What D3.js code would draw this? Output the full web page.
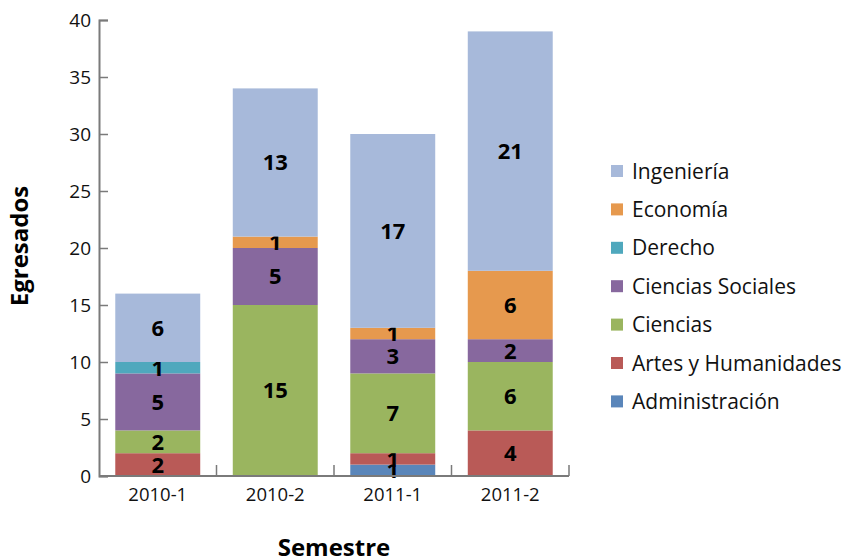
<!DOCTYPE html>
<html>
<head>
<meta charset="utf-8">
<script src="https://cdn.jsdelivr.net/npm/d3@7"></script>
<style>
  body { margin: 0; background: #fff; }
  svg text { font-family: "Open Sans", "DejaVu Sans", sans-serif; }
</style>
</head>
<body>
<div id="chart"></div>
<script>
// Egresados por semestre y área
const semesters = ['2010-1', '2010-2', '2011-1', '2011-2'];
const areas = ['Administración', 'Artes y Humanidades', 'Ciencias', 'Ciencias Sociales', 'Derecho', 'Economía', 'Ingeniería'];
const administracion = [0, 0, 1, 0];
const artes = [2, 0, 1, 4];
const ciencias = [2, 15, 7, 6];
const cienciasSociales = [5, 5, 3, 2];
const derecho = [1, 0, 0, 0];
const economia = [0, 1, 1, 6];
const ingenieria = [6, 13, 17, 21];
const yTicks = [0, 5, 10, 15, 20, 25, 30, 35, 40];
const colors = ['#5A86BA', '#B95A57', '#9AB55F', '#87689E', '#4FA8BD', '#E6994E', '#A7B9DA'];

const seriesValues = [administracion, artes, ciencias, cienciasSociales, derecho, economia, ingenieria];
const rows = semesters.map((s, i) => {
    const row = { semestre: s };
    areas.forEach((a, k) => { row[a] = seriesValues[k][i]; });
    return row;
});

const W = 859, H = 558;
const margin = { left: 99, right: 290, top: 20, bottom: 82 };

const svg = d3.select('#chart').append('svg')
    .attr('width', W)
    .attr('height', H);

const x = d3.scaleBand()
    .domain(semesters)
    .range([margin.left, 569])
    .paddingInner(0.277)
    .paddingOuter(0.1385);

const y = d3.scaleLinear()
    .domain([0, 40])
    .range([H - margin.bottom, margin.top]);

const color = d3.scaleOrdinal().domain(areas).range(colors);

const stacked = d3.stack().keys(areas)(rows);

// bars
const layer = svg.append('g').selectAll('g')
    .data(stacked)
    .join('g')
    .attr('fill', d => color(d.key));

layer.selectAll('rect')
    .data(d => d)
    .join('rect')
    .attr('x', d => x(d.data.semestre))
    .attr('y', d => y(d[1]))
    .attr('width', x.bandwidth())
    .attr('height', d => y(d[0]) - y(d[1]));

// value labels
layer.selectAll('text')
    .data(d => d.filter(v => v[1] - v[0] > 0))
    .join('text')
    .attr('x', d => x(d.data.semestre) + x.bandwidth() / 2)
    .attr('y', d => (y(d[0]) + y(d[1])) / 2)
    .attr('dy', '0.36em')
    .attr('text-anchor', 'middle')
    .attr('font-size', 22)
    .attr('font-weight', 'bold')
    .attr('fill', '#000')
    .text(d => d[1] - d[0]);

// y axis
const yAxis = svg.append('g')
    .attr('transform', `translate(${margin.left},0)`)
    .call(d3.axisRight(y).tickValues(yTicks).tickSize(9).tickFormat(d3.format('d')));
yAxis.select('.domain').attr('stroke', '#7a7a7a').attr('stroke-width', 2);
yAxis.selectAll('.tick line').attr('stroke', '#7a7a7a').attr('stroke-width', 1.5);
yAxis.selectAll('.tick text')
    .attr('x', -8)
    .attr('text-anchor', 'end')
    .attr('font-size', 19)
    .attr('fill', '#111');

// x axis, ticks at category boundaries pointing up
const xAxisG = svg.append('g')
    .attr('transform', `translate(0,${y(0)})`);
xAxisG.append('line')
    .attr('x1', margin.left).attr('x2', 569)
    .attr('stroke', '#7a7a7a').attr('stroke-width', 2);
const step = x.step();
const bounds = semesters.map(s => x(s) + x.bandwidth() + (step - x.bandwidth()) / 2);
xAxisG.selectAll('line.bound')
    .data(bounds)
    .join('line')
    .attr('class', 'bound')
    .attr('x1', d => d).attr('x2', d => d)
    .attr('y1', 0).attr('y2', -11)
    .attr('stroke', '#7a7a7a').attr('stroke-width', 1.5);
xAxisG.selectAll('text')
    .data(semesters)
    .join('text')
    .attr('x', d => x(d) + x.bandwidth() / 2)
    .attr('y', 25)
    .attr('text-anchor', 'middle')
    .attr('font-size', 18.5)
    .attr('fill', '#111')
    .text(d => d);

// axis titles
svg.append('text')
    .attr('transform', 'translate(28,246) rotate(-90)')
    .attr('text-anchor', 'middle')
    .attr('font-size', 24)
    .attr('font-weight', 'bold')
    .text('Egresados');

svg.append('text')
    .attr('x', 334)
    .attr('y', 556)
    .attr('text-anchor', 'middle')
    .attr('font-size', 24)
    .attr('font-weight', 'bold')
    .text('Semestre');

// legend
const legendAreas = areas.slice().reverse();
const legend = svg.append('g')
    .selectAll('g')
    .data(legendAreas)
    .join('g')
    .attr('transform', (d, i) => `translate(611,${171 + i * 38.4})`);
legend.append('rect')
    .attr('x', 0).attr('y', -6)
    .attr('width', 12).attr('height', 12)
    .attr('fill', d => color(d));
legend.append('text')
    .attr('x', 21)
    .attr('dy', '0.36em')
    .attr('font-size', 21)
    .attr('fill', '#111')
    .text(d => d);
</script>
</body>
</html>
